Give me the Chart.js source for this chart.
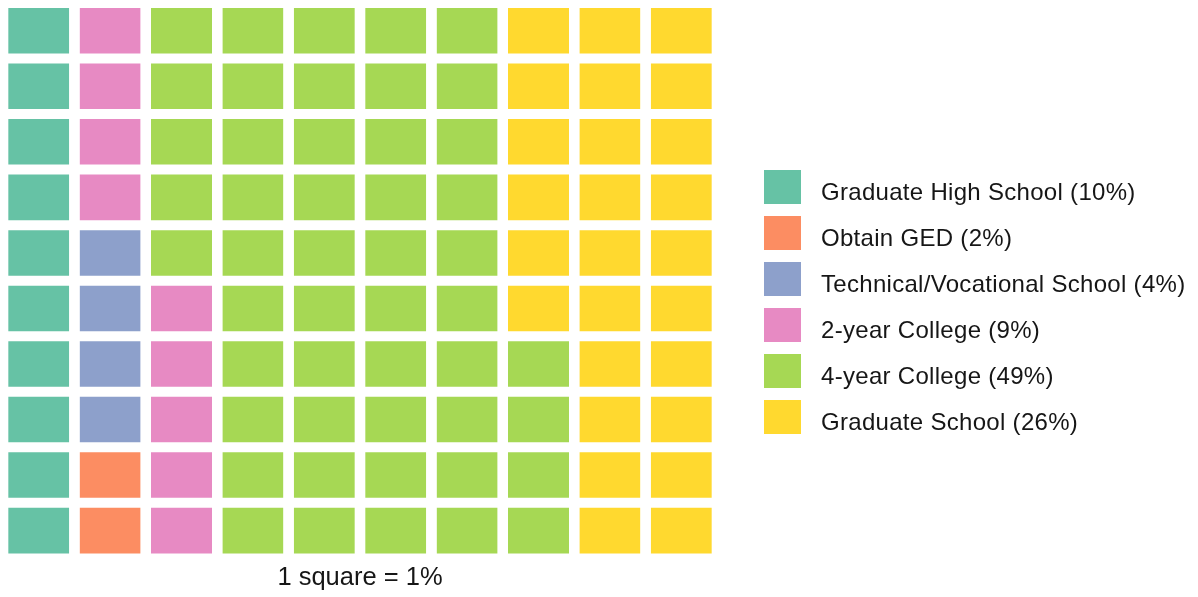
<!DOCTYPE html>
<html>
<head>
<meta charset="utf-8">
<script src="https://cdn.jsdelivr.net/npm/chart.js@4.4.7/dist/chart.umd.min.js"></script>
<style>
    body { margin: 0; background: #fff; }
    #wrap { position: relative; width: 1198px; height: 597px; font-family: "Liberation Sans", Arial, sans-serif; }
    #legend { position: absolute; left: 764px; top: 170px; margin: 0; padding: 0; list-style: none; }
    #legend li { position: relative; height: 34px; margin-bottom: 12px; }
    #legend .box { position: absolute; left: 0; top: 0; width: 37px; height: 34px; }
    #legend .txt { position: absolute; left: 57px; top: 5px; line-height: 34px; font-size: 24px; letter-spacing: 0.3px; color: #161616; white-space: nowrap; }
</style>
</head>
<body>
<div id="wrap">
    <canvas id="chart" width="1198" height="597"></canvas>
    <ul id="legend"></ul>
</div>
<script>
// Waffle chart — 1 square = 1%
const categories = ['Graduate High School', 'Obtain GED', 'Technical/Vocational School', '2-year College', '4-year College', 'Graduate School'];
const percents = [10, 2, 4, 9, 49, 26];
const colors = ['#66C2A5', '#FC8D62', '#8DA0CB', '#E78AC3', '#A6D854', '#FFD92F'];
const columns = ['1', '2', '3', '4', '5', '6', '7', '8', '9', '10'];
const rowCount = 10;

// one entry per square, filled column by column from the bottom
const squares = [];
percents.forEach((p, i) => { for (let k = 0; k < p; k++) squares.push(i); });

const datasets = [];
for (let r = 0; r < rowCount; r++) {
    datasets.push({
        label: 'row ' + (r + 1),
        data: columns.map(() => 1),
        backgroundColor: columns.map((c, ci) => colors[squares[ci * rowCount + r]]),
        borderColor: '#ffffff',
        borderWidth: { top: 5, bottom: 5, left: 0, right: 0 },
        borderSkipped: false,
        barPercentage: 0.855,
        categoryPercentage: 1
    });
}

new Chart(document.getElementById('chart'), {
    type: 'bar',
    data: { labels: columns, datasets },
    options: {
        responsive: false,
        animation: false,
        devicePixelRatio: 1,
        layout: { padding: { left: 3, top: 3, right: 481, bottom: 4 } },
        plugins: { legend: { display: false }, tooltip: { enabled: false } },
        scales: {
            x: {
                stacked: true,
                grid: { display: false, drawTicks: false },
                border: { display: false },
                ticks: { display: false },
                title: {
                    display: true,
                    text: '1 square = 1%',
                    color: '#161616',
                    font: { family: "'Liberation Sans', Arial, sans-serif", size: 25.5 },
                    padding: { top: 4, bottom: 0 }
                }
            },
            y: { stacked: true, min: 0, max: rowCount, display: false }
        }
    }
});

// legend built from the same arrays
document.getElementById('legend').innerHTML = categories.map((c, i) =>
    `<li><span class="box" style="background:${colors[i]}"></span><span class="txt">${c} (${percents[i]}%)</span></li>`
).join('');
</script>
</body>
</html>
